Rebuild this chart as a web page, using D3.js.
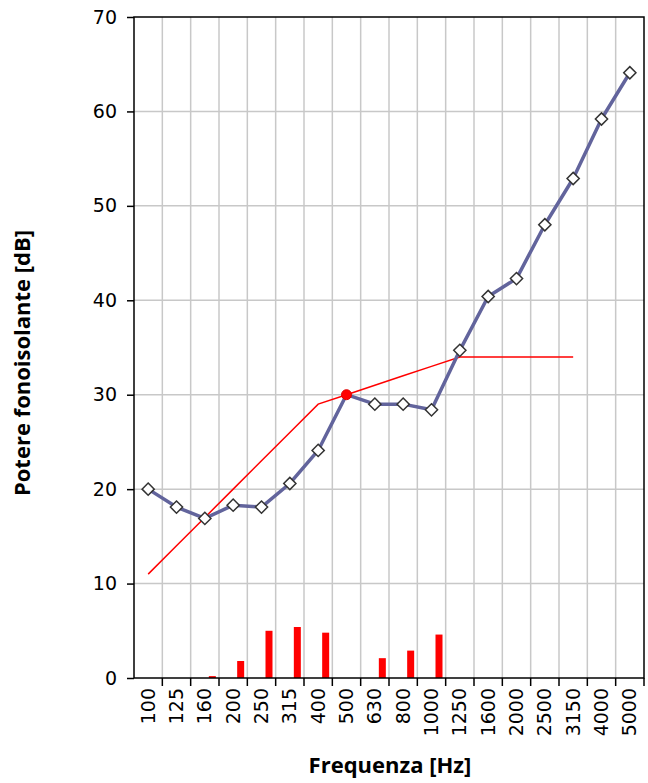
<!DOCTYPE html>
<html>
<head>
<meta charset="utf-8">
<script src="https://cdn.jsdelivr.net/npm/d3@7"></script>
<style>
    body { margin: 0; background: #fff; }
    svg { display: block; }
</style>
</head>
<body>
<svg id="chart"></svg>
<script>
// Data
let frequencies = ['100', '125', '160', '200', '250', '315', '400', '500', '630',
    '800', '1000', '1250', '1600', '2000', '2500', '3150', '4000', '5000'];

let measured = [20.0, 18.1, 16.9, 18.3, 18.1, 20.6, 24.1, 30.0, 29.0,
    29.0, 28.4, 34.7, 40.4, 42.3, 48.0, 52.9, 59.2, 64.1];

// shifted reference curve, 100 Hz .. 3150 Hz
let reference = [11, 14, 17, 20, 23, 26, 29, 30, 31, 32, 33, 34, 34, 34, 34, 34];

// unfavourable deviations
let deviations = [0, 0, 0.2, 1.8, 5.0, 5.4, 4.8, 0, 2.1, 2.9, 4.6, 0, 0, 0, 0, 0, 0, 0];

let yTicks = [0, 10, 20, 30, 40, 50, 60, 70];

// index of the highlighted point (500 Hz)
let highlight = 7;

let c = {
    svg: {
        width: 648,
        height: 783,
        pad: { top: 17, right: 4, bottom: 105, left: 134 }
    },
    plot: {},
    colors: {
        grid: '#c8c8c8',
        measured: '#62649c',
        reference: '#ff0000',
        marker: '#333333'
    }
};

function drawChart() {
    c.plot.width = c.svg.width - c.svg.pad.left - c.svg.pad.right;
    c.plot.height = c.svg.height - c.svg.pad.top - c.svg.pad.bottom;

    let svg = d3.select('svg#chart')
        .attr('width', c.svg.width)
        .attr('height', c.svg.height);

    let x = d3.scaleBand()
        .domain(frequencies)
        .range([0, c.plot.width]);

    let y = d3.scaleLinear()
        .domain([0, 70])
        .range([c.plot.height, 0]);

    let cx = d => x(d) + x.bandwidth() / 2;

    let g = svg.append('g')
        .attr('transform', translate(c.svg.pad.left, c.svg.pad.top));

    // Grid lines
    let grid = g.append('g').attr('id', 'grid');
    grid.selectAll('line.vgrid')
        .data(frequencies.slice(1))
        .enter().append('line')
        .attr('class', 'vgrid')
        .attr('x1', d => x(d)).attr('x2', d => x(d))
        .attr('y1', 0).attr('y2', c.plot.height)
        .style('stroke', c.colors.grid)
        .style('stroke-width', 1.5);
    grid.selectAll('line.hgrid')
        .data(yTicks.slice(1, -1))
        .enter().append('line')
        .attr('class', 'hgrid')
        .attr('x1', 0).attr('x2', c.plot.width)
        .attr('y1', d => y(d)).attr('y2', d => y(d))
        .style('stroke', c.colors.grid)
        .style('stroke-width', 1.5);

    // Deviation bars
    g.append('g').attr('id', 'bars')
        .selectAll('rect')
        .data(frequencies.map((f, i) => ({ f: f, v: deviations[i] })).filter(d => d.v > 0))
        .enter().append('rect')
        .attr('x', d => cx(d.f) + 4)
        .attr('width', 7)
        .attr('y', d => y(d.v))
        .attr('height', d => y(0) - y(d.v))
        .style('fill', c.colors.reference);

    // Frame
    g.append('rect')
        .attr('width', c.plot.width)
        .attr('height', c.plot.height)
        .style('fill', 'none')
        .style('stroke', '#000')
        .style('stroke-width', 1.5);

    // Axes
    let xAxis = d3.axisBottom(x).tickSize(0).tickPadding(10);
    let xg = g.append('g')
        .attr('transform', translate(0, c.plot.height))
        .call(xAxis);
    xg.select('.domain').remove();
    xg.selectAll('text')
        .attr('transform', 'rotate(-90)')
        .attr('x', -10)
        .attr('y', 0)
        .attr('dy', '0.35em')
        .style('text-anchor', 'end')
        .style('font-family', '"DejaVu Sans", sans-serif')
        .style('font-size', '19px')
        .style('fill', '#000');

    // x tick marks on the band boundaries
    xg.selectAll('line.boundary')
        .data(frequencies.slice(1).concat(['end']))
        .enter().append('line')
        .attr('class', 'boundary')
        .attr('x1', d => d === 'end' ? c.plot.width : x(d))
        .attr('x2', d => d === 'end' ? c.plot.width : x(d))
        .attr('y1', 0).attr('y2', 8)
        .style('stroke', '#000')
        .style('stroke-width', 1.5);

    let yAxis = d3.axisLeft(y).tickValues(yTicks).tickSize(7).tickPadding(10);
    let yg = g.append('g').call(yAxis);
    yg.select('.domain').remove();
    yg.selectAll('line').style('stroke', '#000').style('stroke-width', 1.5);
    yg.selectAll('text')
        .style('font-family', '"DejaVu Sans", sans-serif')
        .style('font-size', '19px')
        .style('fill', '#000');

    // Reference curve
    let refLine = d3.line()
        .x((d, i) => cx(frequencies[i]))
        .y(d => y(d));
    g.append('path')
        .datum(reference)
        .attr('d', refLine)
        .style('fill', 'none')
        .style('stroke', c.colors.reference)
        .style('stroke-width', 1.5);

    // Measured curve
    let measLine = d3.line()
        .x((d, i) => cx(frequencies[i]))
        .y(d => y(d));
    g.append('path')
        .datum(measured)
        .attr('d', measLine)
        .style('fill', 'none')
        .style('stroke', c.colors.measured)
        .style('stroke-width', 3.5)
        .style('stroke-linejoin', 'round');

    let diamond = d3.symbol().type(d3.symbolDiamond2).size(95);
    g.append('g').attr('id', 'markers')
        .selectAll('path')
        .data(measured.map((v, i) => ({ f: frequencies[i], v: v, i: i })).filter(d => d.i !== highlight))
        .enter().append('path')
        .attr('d', diamond)
        .attr('transform', d => translate(cx(d.f), y(d.v)))
        .style('fill', '#fff')
        .style('stroke', c.colors.marker)
        .style('stroke-width', 1.5);

    g.append('circle')
        .attr('cx', cx(frequencies[highlight]))
        .attr('cy', y(measured[highlight]))
        .attr('r', 5)
        .style('fill', c.colors.reference)
        .style('stroke', '#e00000')
        .style('stroke-width', 1);

    // Axis titles
    svg.append('text')
        .attr('transform', translate(30, 363) + ' rotate(-90)')
        .style('text-anchor', 'middle')
        .style('font-family', '"Open Sans", sans-serif')
        .style('font-weight', 'bold')
        .style('font-size', '22px')
        .text('Potere fonoisolante [dB]');

    svg.append('text')
        .attr('x', 390)
        .attr('y', 773)
        .style('text-anchor', 'middle')
        .style('font-family', '"Open Sans", sans-serif')
        .style('font-weight', 'bold')
        .style('font-size', '22px')
        .text('Frequenza [Hz]');
}

drawChart();

function translate(x, y) {
    return 'translate(' + x + ',' + y + ')';
}
</script>
</body>
</html>
